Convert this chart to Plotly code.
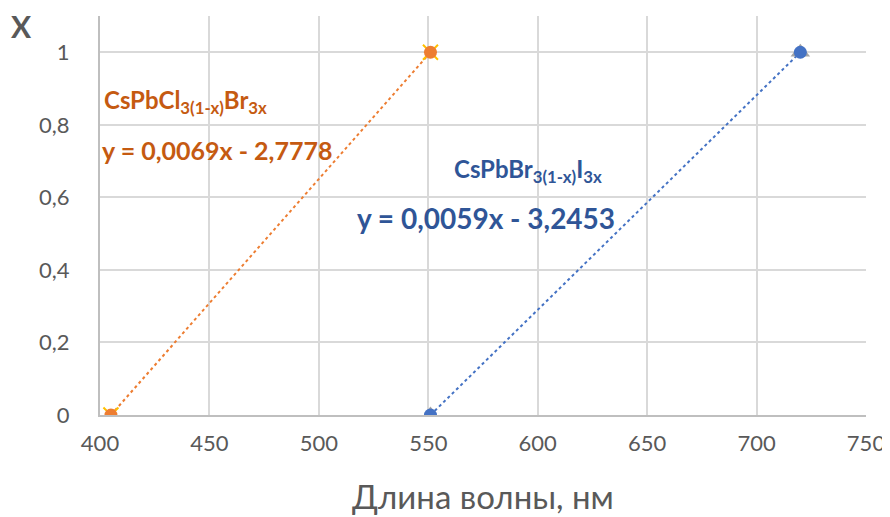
### Graphique : fraction X en fonction de la longueur d'onde ###
import plotly.graph_objects as go

### Données ###
cl_br_wl = [405, 551]          # CsPbCl(3(1-x))Br(3x), longueur d'onde en nm
cl_br_x = [0, 1]
br_i_wl = [551, 720]           # CsPbBr(3(1-x))I(3x)
br_i_x = [0, 1]

x_ticks = [400, 450, 500, 550, 600, 650, 700, 750]
y_ticks = [0, 0.2, 0.4, 0.6, 0.8, 1]
y_labels = ['0', '0,2', '0,4', '0,6', '0,8', '1']

cl_br_name = 'CsPbCl<sub>3(1-x)</sub>Br<sub>3x</sub>'
cl_br_eq = 'y = 0,0069x - 2,7778'
br_i_name = 'CsPbBr<sub>3(1-x)</sub>I<sub>3x</sub>'
br_i_eq = 'y = 0,0059x - 3,2453'

FONT = 'Lato'
ORANGE = '#ED7D31'
BLUE = '#4472C4'

fig = go.Figure()

# Lignes de tendance en pointillés
fig.add_scatter(x=cl_br_wl, y=cl_br_x, mode='lines',
                line=dict(color=ORANGE, width=2, dash='dot'), hoverinfo='skip')
fig.add_scatter(x=br_i_wl, y=br_i_x, mode='lines',
                line=dict(color=BLUE, width=2, dash='dot'), hoverinfo='skip')

# Marqueurs secondaires (croix jaunes, triangles gris)
fig.add_scatter(x=cl_br_wl, y=cl_br_x, mode='markers',
                marker=dict(symbol='x-thin', size=15, line=dict(color='#FFC000', width=2)))
fig.add_scatter(x=br_i_wl, y=br_i_x, mode='markers',
                marker=dict(symbol='triangle-up', size=17, color='#A5A5A5'))

# Marqueurs principaux
fig.add_scatter(x=cl_br_wl, y=cl_br_x, mode='markers',
                marker=dict(symbol='circle', size=13, color=ORANGE))
fig.add_scatter(x=br_i_wl, y=br_i_x, mode='markers',
                marker=dict(symbol='circle', size=13, color=BLUE))

# Étiquettes des séries et équations (position en fraction de la zone de tracé)
annots = [
    (0.003, 0.785, cl_br_name, '#C55A11', 24),
    (0.0, 0.664, cl_br_eq, '#C55A11', 25),
    (0.459, 0.612, br_i_name, '#2F5597', 24),
    (0.333, 0.494, br_i_eq, '#2F5597', 28),
]
for ax, ay, txt, col, sz in annots:
    fig.add_annotation(x=ax, y=ay, xref='paper', yref='paper', text='<b>' + txt + '</b>',
                       showarrow=False, xanchor='left', yanchor='middle',
                       font=dict(family=FONT, size=sz, color=col))

# Titre de l'axe Y en haut à gauche
fig.add_annotation(x=-0.102, y=0.975, xref='paper', yref='paper', text='<b>X</b>',
                   showarrow=False, xanchor='center', yanchor='middle',
                   font=dict(family=FONT, size=30, color='#595959'))

# La page ajoute 8 px de marge au corps : marges décalées en conséquence
fig.update_layout(
    width=890, height=517,
    margin=dict(l=92, r=32, t=8, b=110),
    paper_bgcolor='white', plot_bgcolor='white',
    showlegend=False,
    font=dict(family=FONT, color='#595959'),
    xaxis=dict(range=[400, 750], tickvals=x_ticks, showgrid=True, gridcolor='#D9D9D9',
               gridwidth=2, showline=True, linecolor='#BFBFBF', linewidth=2,
               zeroline=False, tickfont=dict(size=22), ticks='', automargin=False,
               ticklabelstandoff=8,
               title=dict(text='Длина волны, нм', font=dict(size=33), standoff=30)),
    yaxis=dict(range=[0, 1.1], tickvals=y_ticks, ticktext=y_labels, showgrid=True,
               gridcolor='#D9D9D9', gridwidth=2, showline=True, linecolor='#BFBFBF',
               linewidth=2, zeroline=False, tickfont=dict(size=22), ticks='',
               ticklabelstandoff=24, automargin=False),
)

fig.write_html('out.html')
